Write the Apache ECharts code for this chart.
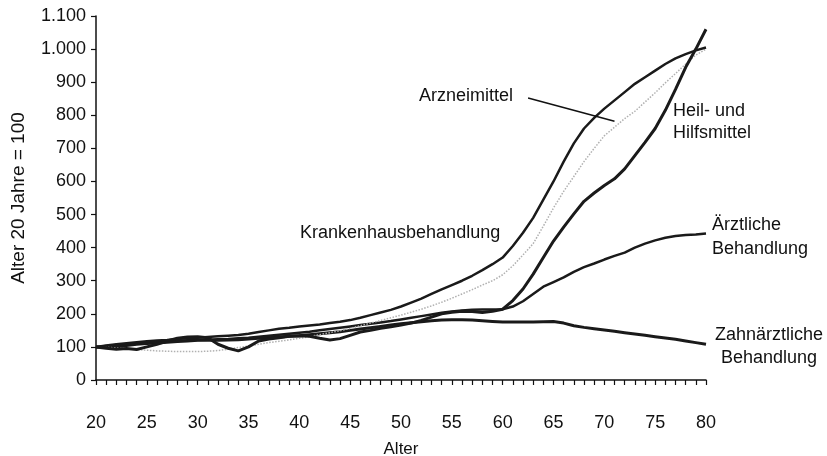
<!DOCTYPE html>
<html>
<head>
<meta charset="utf-8">
<script src="https://cdn.jsdelivr.net/npm/echarts@6/dist/echarts.min.js"></script>
<style>
  html, body { margin: 0; padding: 0; background: #fff; }
  #chart { width: 827px; height: 456px; }
</style>
</head>
<body>
<div id="chart"></div>
<script>
// Alter 20..80
const ages = []
for (let a = 20; a <= 80; a++) ages.push(a)

const krankenhaus = [100, 104, 108, 111, 114, 117, 119, 121, 124, 126, 128, 130, 132, 134, 136, 140, 145, 150, 155, 158,
  162, 165, 168, 172, 176, 181, 188, 196, 204, 212, 222, 234, 246, 260, 274, 287, 300, 315, 332, 350,
  370, 405, 445, 490, 545, 600, 660, 715, 760, 792, 820, 845, 870, 895, 915, 935, 955, 972, 985, 996, 1005]

const arzneimittel = [100, 99, 97, 95, 92, 90, 88, 87, 86, 86, 86, 87, 89, 93, 98, 103, 108, 113, 117, 121,
  126, 131, 137, 143, 149, 156, 164, 172, 180, 188, 196, 205, 214, 224, 235, 247, 260, 273, 287, 300,
  318, 345, 378, 412, 465, 520, 570, 615, 660, 700, 738, 764, 790, 812, 840, 868, 898, 926, 955, 982, 1000]

const heilHilfsmittel = [100, 96, 93, 95, 92, 100, 108, 118, 126, 130, 131, 128, 108, 96, 88, 100, 118, 124, 128, 132,
  134, 132, 126, 121, 125, 135, 145, 150, 156, 161, 166, 172, 180, 190, 200, 205, 208, 207, 204, 208,
  214, 240, 275, 320, 370, 420, 462, 502, 540, 565, 588, 608, 638, 678, 718, 760, 815, 878, 945, 1000, 1060]

const aerztliche = [100, 103, 106, 108, 110, 112, 114, 116, 118, 120, 121, 122, 123, 124, 126, 128, 131, 134, 137, 140,
  143, 146, 150, 154, 158, 162, 166, 170, 174, 178, 183, 188, 193, 198, 203, 207, 210, 212, 213, 213,
  214, 222, 238, 260, 282, 296, 310, 327, 341, 352, 364, 375, 385, 400, 412, 422, 430, 435, 438, 440, 443]

const zahnaerztliche = [100, 98, 100, 104, 108, 110, 112, 114, 116, 118, 120, 120, 120, 121, 122, 124, 126, 128, 130, 132,
  134, 137, 140, 143, 146, 150, 154, 158, 162, 166, 170, 173, 176, 179, 181, 182, 182, 181, 179, 177,
  175, 175, 175, 175, 176, 177, 172, 164, 159, 155, 151, 147, 143, 139, 135, 131, 127, 123, 118, 113, 108]

const pair = (vals) => ages.map((a, i) => [a, vals[i]])

const FONT = 'Liberation Sans'
const LABEL_FONT = '18px "Liberation Sans"'
const chartInstance = echarts.init(document.getElementById('chart'))

const lineSeries = (name, vals, width, color, type) => ({
  name: name,
  type: 'line',
  data: pair(vals),
  showSymbol: false,
  symbol: 'none',
  smooth: false,
  lineStyle: { width: width, color: color, type: type || 'solid' },
  animation: false
})

const option = {
  backgroundColor: '#fff',
  textStyle: { fontFamily: FONT },
  grid: { left: 96, right: 121, top: 16, bottom: 76, outerBoundsMode: 'none', containLabel: false },
  xAxis: {
    type: 'value',
    min: 20,
    max: 80,
    interval: 5,
    name: 'Alter',
    nameLocation: 'middle',
    nameGap: 61,
    nameTextStyle: { fontSize: 17, color: '#111', fontFamily: FONT },
    axisLine: { lineStyle: { color: '#111', width: 1.5 } },
    axisTick: { show: true, length: 5, lineStyle: { color: '#111', width: 1.2 } },
    minorTick: { show: true, splitNumber: 5, length: 5, lineStyle: { color: '#111', width: 1.2 } },
    axisLabel: { margin: 34, fontSize: 18, color: '#111', fontFamily: FONT },
    splitLine: { show: false }
  },
  yAxis: {
    type: 'value',
    min: 0,
    max: 1100,
    interval: 100,
    name: 'Alter 20 Jahre = 100',
    nameLocation: 'middle',
    nameGap: 68,
    nameRotate: 90,
    nameTextStyle: { fontSize: 19, color: '#111', fontFamily: FONT },
    axisLine: { show: true, lineStyle: { color: '#111', width: 1.5 } },
    axisTick: { show: true, length: 5, lineStyle: { color: '#111', width: 1.2 } },
    axisLabel: {
      margin: 10,
      fontSize: 18,
      color: '#111',
      fontFamily: FONT,
      formatter: (v) => (v >= 1000 ? '1.' + String(v).slice(1) : String(v))
    },
    splitLine: { show: false }
  },
  series: [
    lineSeries('Zahnärztliche Behandlung', zahnaerztliche, 3, '#1a1a1a'),
    lineSeries('Ärztliche Behandlung', aerztliche, 2.5, '#1a1a1a'),
    Object.assign(lineSeries('Arzneimittel', arzneimittel, 1.5, '#b0b0b0', 'dotted'), {
      // Zeiger vom Label zur Kurve
      markLine: {
        silent: true,
        symbol: ['none', 'none'],
        label: { show: false },
        lineStyle: { color: '#111', width: 1.5, type: 'solid' },
        data: [[{ coord: [62.5, 852] }, { coord: [71.0, 782] }]]
      }
    }),
    lineSeries('Heil- und Hilfsmittel', heilHilfsmittel, 3, '#1a1a1a'),
    lineSeries('Krankenhausbehandlung', krankenhaus, 2.5, '#1a1a1a')
  ],
  graphic: [
    { type: 'text', left: 419, top: 87, style: { text: 'Arzneimittel', font: LABEL_FONT, fill: '#111' } },
    { type: 'text', left: 673, top: 100, style: { text: 'Heil- und\nHilfsmittel', font: LABEL_FONT, fill: '#111', lineHeight: 22 } },
    { type: 'text', left: 300, top: 224, style: { text: 'Krankenhausbehandlung', font: LABEL_FONT, fill: '#111' } },
    { type: 'text', left: 712, top: 213, style: { text: 'Ärztliche\nBehandlung', font: LABEL_FONT, fill: '#111', lineHeight: 24 } },
    { type: 'text', x: 769, y: 326, style: { text: 'Zahnärztliche', font: LABEL_FONT, fill: '#111', align: 'center' } },
    { type: 'text', x: 769, y: 349, style: { text: 'Behandlung', font: LABEL_FONT, fill: '#111', align: 'center' } }
  ]
}

chartInstance.setOption(option)
</script>
</body>
</html>
